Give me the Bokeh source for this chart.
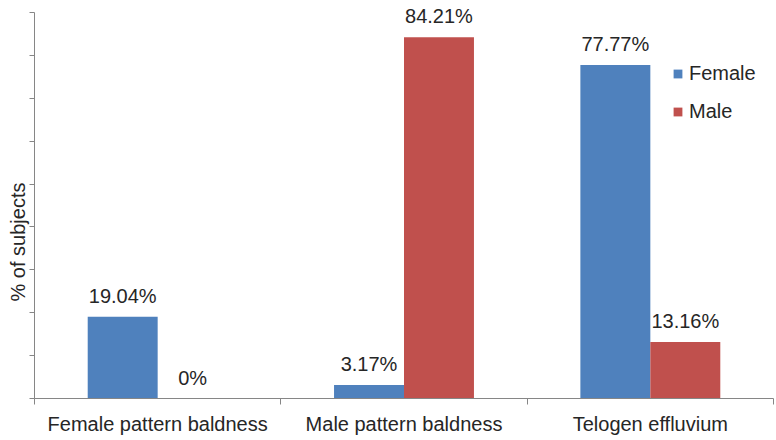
import math
from bokeh.plotting import figure
from bokeh.models import (ColumnDataSource, FixedTicker, Legend, LegendItem, Title, Range1d, LinearAxis)
from bokeh.embed import file_html
from bokeh.resources import INLINE
from bokeh.core.properties import value

categories = ["Female pattern baldness", "Male pattern baldness", "Telogen effluvium"]
female = [19.04, 3.17, 77.77]
male = [0.0, 84.21, 13.16]
series_names = ["Female", "Male"]
y_ticks = [0, 10, 20, 30, 40, 50, 60, 70, 80, 90]

BLUE = "#4F81BD"
RED = "#C0504D"
TXT = "#262626"
AXIS = "#868686"
FONT = "Liberation Sans"
FS = "20px"

bar_w = 0.284
centers = [i + 0.5 for i in range(len(categories))]

src_f = ColumnDataSource(dict(x=[c - bar_w / 2 for c in centers], top=female,
                              lab=["%g%%" % v for v in female]))
src_m = ColumnDataSource(dict(x=[c + bar_w / 2 for c in centers], top=male,
                              lab=["%g%%" % v for v in male]))

p = figure(width=776, height=440, output_backend="svg", toolbar_location=None,
           x_range=Range1d(0, len(categories)), y_range=Range1d(0, 92.8),
           x_axis_type=None, y_axis_type=None,
           min_border_left=34, min_border_right=3,
           min_border_top=0, min_border_bottom=42)
p.outline_line_color = None
p.xgrid.visible = False
p.ygrid.visible = False
p.background_fill_color = "white"
p.border_fill_color = "white"

rf = p.vbar(x="x", top="top", width=bar_w, bottom=0, source=src_f, fill_color=BLUE, line_color=None)
rm = p.vbar(x="x", top="top", width=bar_w, bottom=0, source=src_m, fill_color=RED, line_color=None)

for src in (src_f, src_m):
    p.text(x="x", y="top", text="lab", source=src, text_align="center",
           text_baseline="alphabetic", y_offset=-21, text_font=value(FONT),
           text_font_size=FS, text_color=TXT)

# x axis
xaxis = LinearAxis(ticker=FixedTicker(ticks=centers, minor_ticks=list(range(len(categories) + 1))),
                   major_label_overrides={c: n for c, n in zip(centers, categories)})
xaxis.axis_line_color = AXIS
xaxis.major_tick_line_color = None
xaxis.minor_tick_line_color = AXIS
xaxis.minor_tick_out = 6
xaxis.minor_tick_in = 0
xaxis.major_label_standoff = 8
xaxis.major_label_text_font = FONT
xaxis.major_label_text_font_size = FS
xaxis.major_label_text_color = TXT
p.add_layout(xaxis, "below")

# y axis: ticks only (minor ticks carry no labels)
yaxis = LinearAxis(ticker=FixedTicker(ticks=[], minor_ticks=y_ticks), bounds=(0, 90))
yaxis.axis_line_color = AXIS
yaxis.major_tick_line_color = None
yaxis.minor_tick_line_color = AXIS
yaxis.minor_tick_out = 5
yaxis.minor_tick_in = 0
p.add_layout(yaxis, "left")

p.add_layout(Title(text="% of subjects", align="left", offset=97, standoff=2,
                   text_font=FONT, text_font_size=FS, text_font_style="normal",
                   text_color=TXT), "left")

legend = Legend(items=[LegendItem(label=series_names[0], renderers=[rf]),
                       LegendItem(label=series_names[1], renderers=[rm])],
                location=(638, 275), glyph_width=11, glyph_height=11, label_standoff=6,
                spacing=15, padding=0, margin=0, border_line_color=None,
                background_fill_alpha=0, label_text_font=FONT, label_text_font_size=FS,
                label_text_color=TXT, label_height=22)
p.add_layout(legend)

open("out.html", "w").write(file_html(p, INLINE))
